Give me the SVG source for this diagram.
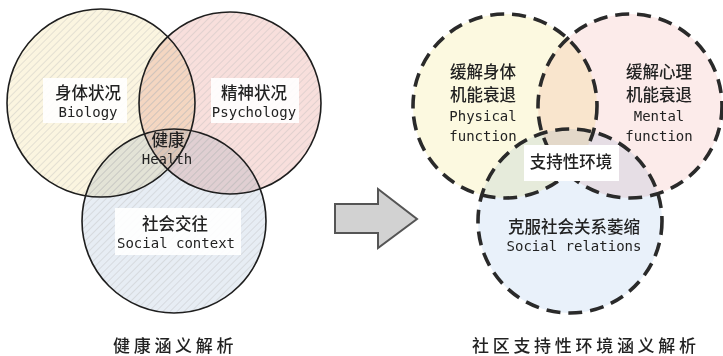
<svg xmlns="http://www.w3.org/2000/svg" width="723" height="356" viewBox="0 0 723 356">
<style>
.cn{font-family:"Noto Sans CJK SC","Noto Sans",sans-serif;font-size:16.5px;font-weight:500;fill:#222;text-anchor:middle}
.en{font-family:"DejaVu Sans Mono","Liberation Mono",monospace;font-size:14px;fill:#222;text-anchor:middle}
.cap{font-family:"Noto Sans CJK SC","Noto Sans",sans-serif;font-size:17px;font-weight:500;fill:#222;letter-spacing:3.7px}
.fill{mix-blend-mode:multiply}
.solid{fill:none;stroke:#1e1e1e;stroke-width:1.6}
.dash{fill:none;stroke:#2a2a2a;stroke-width:3.6;stroke-dasharray:14 8}
.box{fill:#ffffff}
</style>
<defs>
<pattern id="hatch" patternUnits="userSpaceOnUse" width="5" height="5" patternTransform="rotate(45)">
<line x1="0" y1="0" x2="0" y2="5" stroke="#b8b8b8" stroke-width="1"/>
</pattern>
</defs>
<rect width="723" height="356" fill="#ffffff"/>

<g id="left-venn">
<g id="biology">
<circle class="fill" cx="101" cy="103" r="94" fill="#fbf5e0"/>
</g>
<g id="psychology">
<circle class="fill" cx="230" cy="103" r="91" fill="#f8dfdc"/>
</g>
<g id="social-context">
<circle class="fill" cx="174" cy="221" r="92" fill="#e7edf4"/>
</g>
<g id="hatching">
<circle cx="101" cy="103" r="94" fill="url(#hatch)" opacity="0.7"/>
<circle cx="230" cy="103" r="91" fill="url(#hatch)" opacity="0.7"/>
<circle cx="174" cy="221" r="92" fill="url(#hatch)" opacity="0.7"/>
</g>
<g id="left-outlines">
<circle class="solid" cx="101" cy="103" r="94"/>
<circle class="solid" cx="230" cy="103" r="91"/>
<circle class="solid" cx="174" cy="221" r="92"/>
</g>
<rect class="box" x="43" y="78" width="84" height="45" opacity="0.9"/>
<text class="cn" x="88" y="99">身体状况</text>
<text class="en" x="88" y="117">Biology</text>
<rect class="box" x="211" y="78" width="88" height="45" opacity="0.9"/>
<text class="cn" x="254" y="99">精神状况</text>
<text class="en" x="254" y="117">Psychology</text>
<g id="health">
<text class="cn" x="168" y="146">健康</text>
<text class="en" x="167" y="164">Health</text>
</g>
<rect class="box" x="115" y="208" width="126" height="47" opacity="0.9"/>
<text class="cn" x="175" y="230">社会交往</text>
<text class="en" x="176" y="248">Social context</text>
</g>

<g id="connectors">
<polygon id="arrow" points="335,204 378,204 378,189 417,219 378,248 378,233 335,233" fill="#d2d2d2" stroke="#555" stroke-width="2" stroke-linejoin="miter"/>
</g>

<g id="right-venn">
<g id="physical-function">
<circle class="fill" cx="505" cy="106" r="92" fill="#fcf9e0"/>
</g>
<g id="mental-function">
<circle class="fill" cx="630" cy="106" r="92" fill="#fcebea"/>
</g>
<g id="social-relations">
<circle class="fill" cx="570" cy="221" r="92" fill="#e9f1fa"/>
</g>
<g id="right-outlines">
<circle class="dash" cx="505" cy="106" r="92"/>
<circle class="dash" cx="630" cy="106" r="92"/>
<circle class="dash" cx="570" cy="221" r="92"/>
</g>
<text class="cn" x="483" y="78">缓解身体</text>
<text class="cn" x="483" y="101">机能衰退</text>
<text class="en" x="483" y="121">Physical</text>
<text class="en" x="483" y="141">function</text>
<text class="cn" x="659" y="78">缓解心理</text>
<text class="cn" x="659" y="101">机能衰退</text>
<text class="en" x="659" y="121">Mental</text>
<text class="en" x="659" y="141">function</text>
<g id="supportive-environment">
<rect class="box" x="524" y="145" width="95" height="36"/>
<text class="cn" x="571" y="168">支持性环境</text>
</g>
<text class="cn" x="574" y="233">克服社会关系萎缩</text>
<text class="en" x="574" y="251">Social relations</text>
</g>

<text class="cap" x="113" y="352">健康涵义解析</text>
<text class="cap" x="472" y="352">社区支持性环境涵义解析</text>
</svg>
